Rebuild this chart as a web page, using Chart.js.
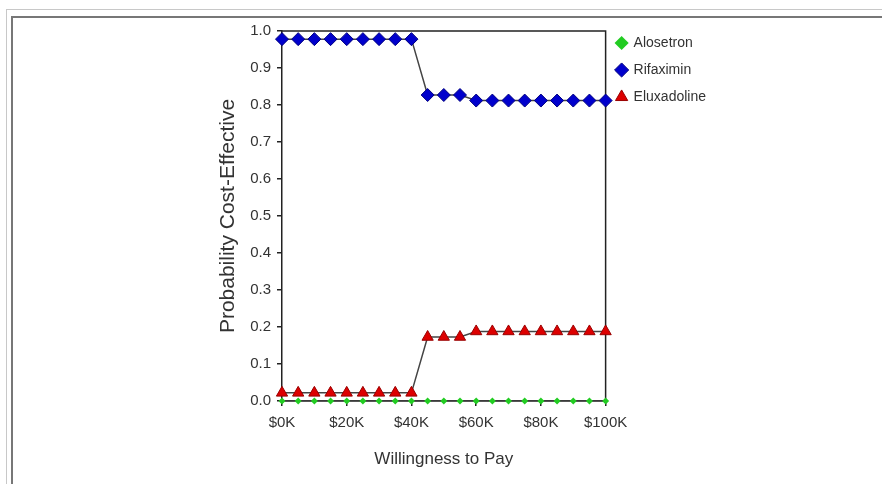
<!DOCTYPE html>
<html>
<head>
<meta charset="utf-8">
<script src="https://cdn.jsdelivr.net/npm/chart.js@4"></script>
<style>
  html, body { margin: 0; padding: 0; background: #fff; }
  #wrap { position: relative; width: 882px; height: 484px; overflow: hidden; }
  .outer { position: absolute; left: 6px; top: 9px; right: 0; bottom: -5px; border-top: 1px solid #c8c8c8; border-left: 1px solid #c8c8c8; }
  .inner { position: absolute; left: 11px; top: 16px; right: 0; bottom: -5px; border-top: 2px solid #777; border-left: 2px solid #777; }
  #chart { position: absolute; left: 0; top: 0; }
</style>
</head>
<body>
<div id="wrap">
  <div class="outer"></div>
  <div class="inner"></div>
  <canvas id="chart" width="882" height="484"></canvas>
</div>
<script>
// Willingness to pay, $K
const wtp = [0, 5, 10, 15, 20, 25, 30, 35, 40, 45, 50, 55, 60, 65, 70, 75, 80, 85, 90, 95, 100];

const alosetron   = [0, 0, 0, 0, 0, 0, 0, 0, 0, 0, 0, 0, 0, 0, 0, 0, 0, 0, 0, 0, 0];
const rifaximin   = [0.978, 0.978, 0.978, 0.978, 0.978, 0.978, 0.978, 0.978, 0.978,
                     0.827, 0.827, 0.827, 0.812, 0.812, 0.812, 0.812, 0.812, 0.812, 0.812, 0.812, 0.812];
const eluxadoline = [0.022, 0.022, 0.022, 0.022, 0.022, 0.022, 0.022, 0.022, 0.022,
                     0.173, 0.173, 0.173, 0.188, 0.188, 0.188, 0.188, 0.188, 0.188, 0.188, 0.188, 0.188];

const xTicks = [0, 20, 40, 60, 80, 100];

function pts(vals) {
    return wtp.map((x, i) => ({ x: x, y: vals[i] }));
}

// box line on top and right of plot area, and nudge legend up
const frameBox = {
    id: 'frameBox',
    beforeDraw(chart) {
        if (chart.legend && !chart.legend._moved) {
            chart.legend.top -= 8;
            chart.legend.left -= 2;
            chart.legend._moved = true;
        }
    },
    beforeDatasetsDraw(chart) {
        const a = chart.chartArea;
        const c = chart.ctx;
        c.save();
        c.strokeStyle = '#222';
        c.lineWidth = 1.5;
        c.beginPath();
        c.moveTo(a.left, a.top);
        c.lineTo(a.right, a.top);
        c.lineTo(a.right, a.bottom);
        c.stroke();
        c.restore();
    }
};

const tickFont = { family: '"Liberation Sans", Arial', size: 15 };
const legendFont = { family: '"Liberation Sans", Arial', size: 14 };

new Chart(document.getElementById('chart'), {
    type: 'line',
    data: {
        datasets: [
            {
                label: 'Alosetron',
                data: pts(alosetron),
                borderColor: '#444',
                borderWidth: 1.5,
                pointStyle: 'rectRot',
                pointRadius: 3.5,
                pointBackgroundColor: '#22cc22',
                pointBorderColor: '#22cc22',
                pointBorderWidth: 0
            },
            {
                label: 'Rifaximin',
                data: pts(rifaximin),
                borderColor: '#444',
                borderWidth: 1.5,
                pointStyle: 'rectRot',
                pointRadius: 6.5,
                pointBackgroundColor: '#0000cc',
                pointBorderColor: '#000080',
                pointBorderWidth: 1
            },
            {
                label: 'Eluxadoline',
                data: pts(eluxadoline),
                borderColor: '#444',
                borderWidth: 1.5,
                pointStyle: 'triangle',
                pointRadius: 6.5,
                pointBackgroundColor: '#dd0000',
                pointBorderColor: '#990000',
                pointBorderWidth: 1
            }
        ]
    },
    options: {
        responsive: false,
        animation: false,
        clip: false,
        layout: { padding: { left: 216, top: 31, right: 164, bottom: 10 } },
        plugins: {
            tooltip: { enabled: false },
            legend: {
                position: 'right',
                align: 'start',
                labels: {
                    usePointStyle: true,
                    boxWidth: 10,
                    boxHeight: 10,
                    padding: 13,
                    color: '#333',
                    font: legendFont
                }
            }
        },
        scales: {
            x: {
                type: 'linear',
                min: 0,
                max: 100,
                afterFit(s) { s.height = 73; },
                afterBuildTicks(s) { s.ticks = xTicks.map(v => ({ value: v })); },
                grid: { drawOnChartArea: false, drawTicks: true, tickLength: 5, color: '#222', lineWidth: 1.5 },
                border: { display: true, color: '#222', width: 1.5 },
                ticks: { color: '#333', font: tickFont, padding: 8, maxRotation: 0, callback: v => '$' + v + 'K' },
                title: { display: true, text: 'Willingness to Pay', color: '#333', font: { family: '"Liberation Sans", Arial', size: 17 }, padding: { top: 12 } }
            },
            y: {
                min: 0,
                max: 1,
                afterFit(s) { s.width = 66; },
                grid: { drawOnChartArea: false, drawTicks: true, tickLength: 5, color: '#222', lineWidth: 1.5 },
                border: { display: true, color: '#222', width: 1.5 },
                ticks: { stepSize: 0.1, color: '#333', font: tickFont, padding: 6, callback: v => v.toFixed(1) },
                title: { display: true, text: 'Probability Cost-Effective', color: '#333', font: { family: '"Liberation Sans", Arial', size: 21 }, padding: 0 }
            }
        }
    },
    plugins: [frameBox]
});
</script>
</body>
</html>
